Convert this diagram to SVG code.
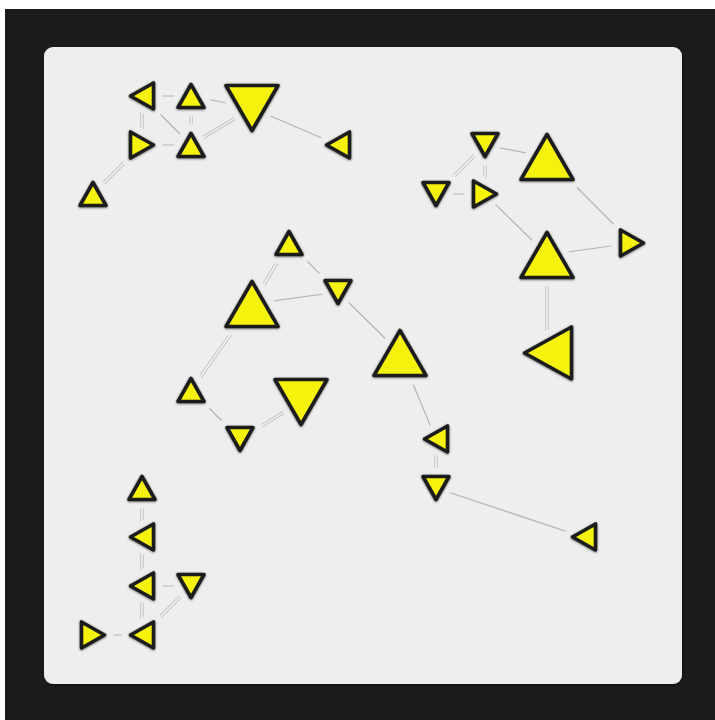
<svg xmlns="http://www.w3.org/2000/svg" xmlns:xlink="http://www.w3.org/1999/xlink" width="715" height="720" viewBox="0 0 715 720">
<style>
.halo{fill:#eeeeee;stroke:#eeeeee;stroke-width:18;stroke-linejoin:round}
.tri{fill:#f6f20c;stroke:#1f1f1f;stroke-width:3.6;stroke-linejoin:round;filter:url(#sh)}
.e{stroke:#b4b4b4;stroke-width:1.2;fill:none}
.d1{stroke:#c4c4c4;stroke-width:3.6;fill:none}
.d2{stroke:#f7f7f7;stroke-width:1.4;fill:none}
</style>
<defs>
<filter id="sh" x="-30%" y="-30%" width="160%" height="160%">
<feDropShadow dx="0" dy="0.6" stdDeviation="1.2" flood-color="#000" flood-opacity="0.6"/>
</filter>
<filter id="psh" x="-5%" y="-5%" width="110%" height="110%">
<feDropShadow dx="0.5" dy="1" stdDeviation="1" flood-color="#000" flood-opacity="0.6"/>
</filter>
<g id="up-s"><path class="halo" d="M0,-11.5 L13,11.5 L-13,11.5 Z"/><path class="tri" d="M0,-11.5 L13,11.5 L-13,11.5 Z"/></g>
<g id="down-s"><path class="halo" d="M-13,-11.5 L13,-11.5 L0,11.5 Z"/><path class="tri" d="M-13,-11.5 L13,-11.5 L0,11.5 Z"/></g>
<g id="left-s"><path class="halo" d="M-11.5,0 L11.5,-13 L11.5,13 Z"/><path class="tri" d="M-11.5,0 L11.5,-13 L11.5,13 Z"/></g>
<g id="right-s"><path class="halo" d="M11.5,0 L-11.5,-13 L-11.5,13 Z"/><path class="tri" d="M11.5,0 L-11.5,-13 L-11.5,13 Z"/></g>
<g id="up-b"><path class="halo" d="M0,-22.5 L26,22.5 L-26,22.5 Z"/><path class="tri" d="M0,-22.5 L26,22.5 L-26,22.5 Z"/></g>
<g id="down-b"><path class="halo" d="M-26,-22.5 L26,-22.5 L0,22.5 Z"/><path class="tri" d="M-26,-22.5 L26,-22.5 L0,22.5 Z"/></g>
<g id="left-b"><path class="halo" d="M-23.5,0 L23.5,-26 L23.5,26 Z"/><path class="tri" d="M-23.5,0 L23.5,-26 L23.5,26 Z"/></g>
</defs>
<rect x="0" y="0" width="715" height="720" fill="#ffffff"/>
<rect x="5" y="9" width="710" height="711" fill="#1b1b1b"/>
<rect x="44" y="47" width="638" height="637" rx="9" fill="#eeeeee" filter="url(#psh)"/>
<g id="connectors">
<line class="e" x1="142" y1="96" x2="191" y2="96"/>
<line class="e" x1="142" y1="96" x2="191" y2="145"/>
<line class="e" x1="191" y1="96" x2="252" y2="108"/>
<line class="e" x1="142" y1="145" x2="191" y2="145"/>
<line class="e" x1="252" y1="108" x2="338" y2="145"/>
<line class="e" x1="485" y1="145" x2="547" y2="157"/>
<line class="e" x1="436" y1="194" x2="485" y2="194"/>
<line class="e" x1="485" y1="194" x2="547" y2="255"/>
<line class="e" x1="547" y1="157" x2="632" y2="243"/>
<line class="e" x1="547" y1="255" x2="632" y2="243"/>
<line class="e" x1="289" y1="243" x2="338" y2="292"/>
<line class="e" x1="252" y1="304" x2="338" y2="292"/>
<line class="e" x1="338" y1="292" x2="400" y2="353"/>
<line class="e" x1="191" y1="390" x2="240" y2="439"/>
<line class="e" x1="400" y1="353" x2="436" y2="439"/>
<line class="e" x1="436" y1="488" x2="583" y2="537"/>
<line class="e" x1="142" y1="586" x2="191" y2="586"/>
<line class="e" x1="142" y1="635" x2="93" y2="635"/>
<g>
<line class="d1" x1="191" y1="145" x2="252" y2="108"/><line class="d2" x1="191" y1="145" x2="252" y2="108"/>
<line class="d1" x1="142" y1="145" x2="93" y2="194"/><line class="d2" x1="142" y1="145" x2="93" y2="194"/>
<line class="d1" x1="142" y1="96" x2="142" y2="145"/><line class="d2" x1="142" y1="96" x2="142" y2="145"/>
<line class="d1" x1="191" y1="96" x2="191" y2="145"/><line class="d2" x1="191" y1="96" x2="191" y2="145"/>
<line class="d1" x1="485" y1="145" x2="436" y2="194"/><line class="d2" x1="485" y1="145" x2="436" y2="194"/>
<line class="d1" x1="485" y1="145" x2="485" y2="194"/><line class="d2" x1="485" y1="145" x2="485" y2="194"/>
<line class="d1" x1="547" y1="255" x2="547" y2="353"/><line class="d2" x1="547" y1="255" x2="547" y2="353"/>
<line class="d1" x1="289" y1="243" x2="252" y2="304"/><line class="d2" x1="289" y1="243" x2="252" y2="304"/>
<line class="d1" x1="252" y1="304" x2="191" y2="390"/><line class="d2" x1="252" y1="304" x2="191" y2="390"/>
<line class="d1" x1="240" y1="439" x2="301" y2="402"/><line class="d2" x1="240" y1="439" x2="301" y2="402"/>
<line class="d1" x1="436" y1="439" x2="436" y2="488"/><line class="d2" x1="436" y1="439" x2="436" y2="488"/>
<line class="d1" x1="142" y1="488" x2="142" y2="537"/><line class="d2" x1="142" y1="488" x2="142" y2="537"/>
<line class="d1" x1="142" y1="537" x2="142" y2="586"/><line class="d2" x1="142" y1="537" x2="142" y2="586"/>
<line class="d1" x1="142" y1="586" x2="142" y2="635"/><line class="d2" x1="142" y1="586" x2="142" y2="635"/>
<line class="d1" x1="191" y1="586" x2="142" y2="635"/><line class="d2" x1="191" y1="586" x2="142" y2="635"/>
</g>
</g>
<g id="node-A"><use xlink:href="#left-s" transform="translate(142,96)"/></g>
<g id="node-B"><use xlink:href="#up-s" transform="translate(191,96)"/></g>
<g id="node-C"><use xlink:href="#down-b" transform="translate(252,108)"/></g>
<g id="node-D"><use xlink:href="#right-s" transform="translate(142,145)"/></g>
<g id="node-E"><use xlink:href="#up-s" transform="translate(191,145)"/></g>
<g id="node-F"><use xlink:href="#left-s" transform="translate(338,145)"/></g>
<g id="node-G"><use xlink:href="#up-s" transform="translate(93,194)"/></g>
<g id="node-H"><use xlink:href="#down-s" transform="translate(485,145)"/></g>
<g id="node-I"><use xlink:href="#up-b" transform="translate(547,157)"/></g>
<g id="node-J"><use xlink:href="#down-s" transform="translate(436,194)"/></g>
<g id="node-K"><use xlink:href="#right-s" transform="translate(485,194)"/></g>
<g id="node-L"><use xlink:href="#up-b" transform="translate(547,255)"/></g>
<g id="node-M"><use xlink:href="#right-s" transform="translate(632,243)"/></g>
<g id="node-N"><use xlink:href="#left-b" transform="translate(548,353)"/></g>
<g id="node-O"><use xlink:href="#up-s" transform="translate(289,243)"/></g>
<g id="node-P"><use xlink:href="#up-b" transform="translate(252,304)"/></g>
<g id="node-Q"><use xlink:href="#down-s" transform="translate(338,292)"/></g>
<g id="node-R"><use xlink:href="#up-b" transform="translate(400,353)"/></g>
<g id="node-S"><use xlink:href="#up-s" transform="translate(191,390)"/></g>
<g id="node-T"><use xlink:href="#down-b" transform="translate(301,402)"/></g>
<g id="node-U"><use xlink:href="#down-s" transform="translate(240,439)"/></g>
<g id="node-V"><use xlink:href="#left-s" transform="translate(436,439)"/></g>
<g id="node-W"><use xlink:href="#down-s" transform="translate(436,488)"/></g>
<g id="node-X"><use xlink:href="#left-s" transform="translate(584,537)"/></g>
<g id="node-Y"><use xlink:href="#up-s" transform="translate(142,488)"/></g>
<g id="node-Z"><use xlink:href="#left-s" transform="translate(142,537)"/></g>
<g id="node-AA"><use xlink:href="#left-s" transform="translate(142,586)"/></g>
<g id="node-AB"><use xlink:href="#down-s" transform="translate(191,586)"/></g>
<g id="node-AC"><use xlink:href="#left-s" transform="translate(142,635)"/></g>
<g id="node-AD"><use xlink:href="#right-s" transform="translate(93,635)"/></g>
</svg>
